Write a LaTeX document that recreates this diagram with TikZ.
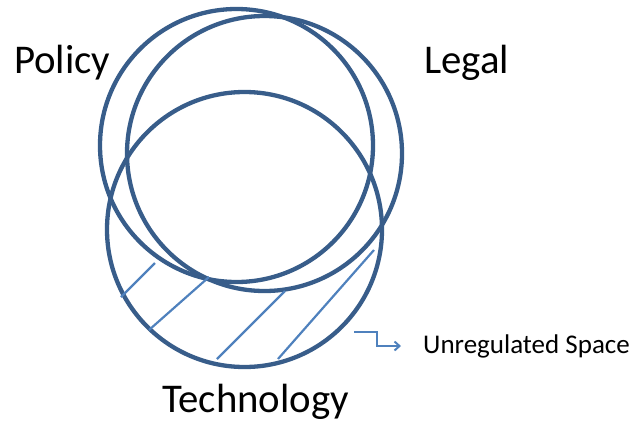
\documentclass[tikz,border=0pt]{standalone}
\usepackage{fontspec}
\setmainfont{Carlito}
\usetikzlibrary{arrows.meta}
\definecolor{ringblue}{HTML}{385D8A}
\definecolor{lineblue}{HTML}{4F81BD}
\begin{document}
\begin{tikzpicture}[x=1pt,y=-1pt,
  ring/.style={draw=ringblue,line width=4.3pt},
  hatch/.style={draw=lineblue,line width=2.2pt},
  label/.style={inner sep=0pt,anchor=base west,text=black,font=\fontsize{40.8}{46}\selectfont},
  small/.style={inner sep=0pt,anchor=base west,text=black,font=\fontsize{27}{31}\selectfont},
  pointer/.style={draw=lineblue,line width=2pt,-{Straight Barb[length=5pt,width=9pt]}}]
\useasboundingbox (0,0) rectangle (635,426);
% circles
\node[ring,circle,minimum size=273pt,inner sep=0pt] (policyc) at (236.5,145.5) {};
\node[ring,circle,minimum size=275pt,inner sep=0pt] (legalc) at (264.5,153.5) {};
\node[ring,circle,minimum size=275pt,inner sep=0pt] (techc) at (244.5,229.5) {};
% hatching
\draw[hatch] (121,297) -- (155,263);
\draw[hatch] (149,330) -- (209,277);
\draw[hatch] (217,359) -- (285,291);
\draw[hatch] (278,359) -- (374,250);
% labels
\node[label] (policy) at (14,73) {Policy};
\node[label] (legal) at (424,73) {Legal};
\node[label] (tech) at (162,412) {Technology};
\node[small] (unreg) at (423,353) {Unregulated Space};
% pointer
\coordinate (p0) at (354,332);
\coordinate (p1) at (401,346);
\draw[pointer] (p0) -- (377,332) -- (377,346) -- (p1);
\end{tikzpicture}
\end{document}
